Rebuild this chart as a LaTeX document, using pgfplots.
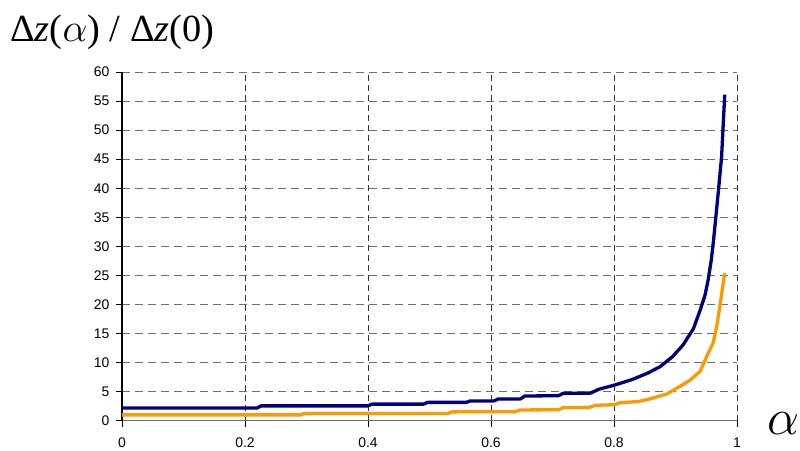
\documentclass[border=0pt]{standalone}
\usepackage{fontspec}
\setmainfont{Liberation Sans}
\newfontfamily\seriffont{Liberation Serif}
\usepackage{graphicx}
\usepackage{pgfplots}
\usepackage{pgfplotstable}
\pgfplotsset{compat=1.18}

\definecolor{curveblue}{HTML}{000080}
\definecolor{curveorange}{HTML}{FF9900}
\definecolor{gridgray}{HTML}{6E6E6E}

% large italic alpha, built from the 24pt math alpha
\newcommand{\bigalpha}[1]{\scalebox{#1}{\fontsize{24}{26}\selectfont$\alpha$}}

\pgfplotstableread{
a r
0 2.2
0.22 2.2
0.226 2.55
0.40 2.55
0.406 2.85
0.49 2.85
0.497 3.15
0.56 3.15
0.566 3.4
0.605 3.4
0.612 3.75
0.648 3.75
0.655 4.25
0.71 4.3
0.717 4.7
0.762 4.75
0.775 5.4
0.80 6.1
0.83 7.1
0.855 8.2
0.875 9.3
0.895 11.0
0.912 13.0
0.929 15.8
0.94 19.0
0.948 21.6
0.953 24.2
0.958 27.5
0.962 31.2
0.966 35.5
0.970 39.8
0.975 45.5
0.980 56.1
}\uppercurve

\pgfplotstableread{
a r
0 1.0
0.29 1.0
0.296 1.22
0.53 1.25
0.537 1.52
0.64 1.55
0.647 1.85
0.71 1.88
0.717 2.25
0.76 2.3
0.77 2.65
0.80 2.75
0.81 3.1
0.84 3.3
0.86 3.8
0.886 4.6
0.907 5.9
0.924 7.0
0.94 8.5
0.953 11.6
0.961 13.3
0.967 16.2
0.972 19.6
0.98 25.4
}\lowercurve

\begin{document}
\begin{tikzpicture}
\useasboundingbox (-122bp,-30.3bp) rectangle (678bp,420.7bp);
\begin{axis}[
  scale only axis,
  width=615bp, height=348.7bp,
  xmin=0, xmax=1, ymin=0, ymax=60,
  xtick={0,0.2,...,1}, ytick={0,5,...,60},
  xticklabels={0,0.2,0.4,0.6,0.8,1},
  axis x line*=bottom, axis y line*=left,
  x axis line style={draw=gridgray, line width=1.1bp},
  y axis line style={draw=black, line width=1.1bp},
  tick align=outside, major tick length=6bp,
  tick style={black, line width=0.9bp},
  xmajorgrids, ymajorgrids,
  x grid style={draw=black!80, line width=0.8bp, dash pattern=on 6bp off 4bp},
  y grid style={draw=gridgray, line width=0.8bp, dash pattern=on 8bp off 5bp},
  /pgf/number format/assume math mode=true,
  tick label style={font=\fontsize{14}{16}\selectfont},
  xticklabel style={yshift=-8bp},
  yticklabel style={xshift=-3bp},
  clip=false,
]
\addplot[curveblue, line width=3.3bp, line join=round] table[x=a, y=r] {\uppercurve};
\addplot[curveorange, line width=3.3bp, line join=round] table[x=a, y=r] {\lowercurve};
\end{axis}
\node[anchor=base west, inner sep=0pt, font=\seriffont\fontsize{38.5}{42}\selectfont]
  at (-112bp,379bp) {Δ\textit{z}(\bigalpha{1.6}) / Δ\textit{z}(0)};
\node[anchor=base west, inner sep=0pt] at (645bp,-14.3bp) {\bigalpha{2.05}};
\end{tikzpicture}
\end{document}
